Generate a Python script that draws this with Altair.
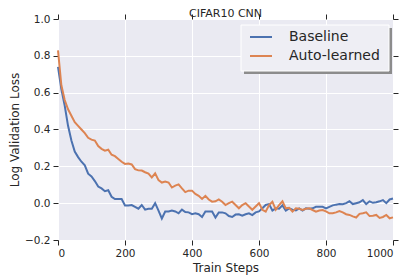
import altair as alt
import pandas as pd

steps = list(range(0, 1001, 10))

baseline = [
    0.74, 0.62, 0.53, 0.42, 0.34, 0.28, 0.25, 0.225, 0.205, 0.16,
    0.145, 0.12, 0.09, 0.08, 0.065, 0.07, 0.035, 0.022, 0.022, 0.022,
    -0.012, -0.012, -0.01, -0.02, -0.03, -0.01, -0.035, -0.03, -0.03, 0.0,
    -0.04, -0.083, -0.045, -0.045, -0.04, -0.045, -0.055, -0.035, -0.048, -0.05,
    -0.06, -0.055, -0.06, -0.075, -0.045, -0.045, -0.045, -0.078, -0.05, -0.05,
    -0.055, -0.07, -0.075, -0.062, -0.06, -0.068, -0.06, -0.055, -0.065, -0.05,
    -0.045, -0.028, -0.01, -0.005, -0.04, -0.028, -0.03, -0.012, -0.04, -0.028,
    -0.035, -0.04, -0.028, -0.04, -0.028, -0.03, -0.028, -0.02, -0.02, -0.02,
    -0.028, -0.02, -0.012, -0.008, -0.005, -0.006, 0.0, 0.01, -0.005, 0.0,
    0.005, 0.017, -0.005, 0.01, 0.002, 0.005, 0.01, 0.017, 0.0, 0.02,
    0.025,
]

auto_learned = [
    0.83, 0.64, 0.56, 0.51, 0.475, 0.44, 0.42, 0.40, 0.38, 0.355,
    0.345, 0.34, 0.31, 0.295, 0.285, 0.29, 0.263, 0.255, 0.24, 0.225,
    0.213, 0.215, 0.21, 0.185, 0.178, 0.177, 0.168, 0.16, 0.14, 0.162,
    0.125, 0.112, 0.118, 0.112, 0.085, 0.095, 0.102, 0.08, 0.06, 0.068,
    0.068, 0.05, 0.04, 0.023, 0.04, 0.02, 0.008, 0.01, 0.02, 0.008,
    -0.01, 0.0, 0.008, -0.01, -0.028, -0.01, 0.0, -0.018, -0.036, -0.018,
    0.0, -0.036, -0.046, -0.01, 0.008, -0.035, -0.01, 0.01, -0.028, -0.025,
    -0.046, -0.028, -0.03, -0.037, -0.03, -0.028, -0.037, -0.046, -0.04, -0.037,
    -0.045, -0.055, -0.055, -0.05, -0.043, -0.05, -0.06, -0.064, -0.072, -0.078,
    -0.058, -0.055, -0.05, -0.07, -0.068, -0.064, -0.08, -0.075, -0.064, -0.082,
    -0.077,
]

series_names = ["Baseline", "Auto-learned"]
series_colors = ["#4C72B0", "#DD8452"]
x_ticks = [0, 200, 400, 600, 800, 1000]
y_ticks = [-0.2, 0.0, 0.2, 0.4, 0.6, 0.8, 1.0]

df = pd.DataFrame({
    "step": steps + steps,
    "loss": baseline + auto_learned,
    "series": [series_names[0]] * len(steps) + [series_names[1]] * len(steps),
})

FONT = "DejaVu Sans"
TXT = "#262626"

xscale = alt.Scale(domain=[0, 1000], nice=False, zero=False)
yscale = alt.Scale(domain=[-0.2, 1.0], nice=False, zero=False)

lines = alt.Chart(df).mark_line(strokeWidth=2).encode(
    x=alt.X("step:Q", scale=xscale,
            axis=alt.Axis(title="Train Steps", values=x_ticks, format="d", orient="bottom",
                          grid=True, titlePadding=4)),
    y=alt.Y("loss:Q", scale=yscale,
            axis=alt.Axis(title="Log Validation Loss", values=y_ticks, format=".1f",
                          orient="left", grid=True, titlePadding=3)),
    color=alt.Color("series:N", sort=series_names,
                    scale=alt.Scale(domain=series_names, range=series_colors),
                    legend=alt.Legend(title=None, orient="none", legendX=191, legendY=6,
                                      symbolType="stroke", symbolSize=484,
                                      symbolStrokeWidth=2, labelFontSize=14,
                                      labelFont=FONT, labelColor=TXT,
                                      labelOffset=16, rowPadding=0, padding=0)),
)

frame_axes = alt.Chart(df).mark_line(opacity=0).encode(
    x=alt.X("step:Q", scale=xscale,
            axis=alt.Axis(title=None, values=x_ticks, orient="top", labels=False,
                          grid=False)),
    y=alt.Y("loss:Q", scale=yscale,
            axis=alt.Axis(title=None, values=y_ticks, orient="right", labels=False,
                          grid=False)),
)

box_df = pd.DataFrame({"k": [0]})
shadow = alt.Chart(box_df).mark_rect(color="#8c8c8c").encode(
    x=alt.value(186), x2=alt.value(334), y=alt.value(9), y2=alt.value(55)
)
box = alt.Chart(box_df).mark_rect(color="#EEEEF4", stroke="#FFFFFF", strokeWidth=1).encode(
    x=alt.value(183), x2=alt.value(331), y=alt.value(6), y2=alt.value(52)
)

chart = alt.layer(frame_axes, lines, shadow, box).resolve_axis(
    x="independent", y="independent"
).properties(
    width=335, height=221,
    autosize=alt.AutoSizeParams(type="none"),
    padding={"left": 50, "top": 11, "right": 10, "bottom": 40},
    title=alt.TitleParams("CIFAR10 CNN", font=FONT, fontSize=11, fontWeight="normal",
                          color=TXT, offset=0, anchor="middle", dy=5),
).configure_view(
    fill="#EAEAF2", stroke="transparent"
).configure_axis(
    domain=False, gridColor="#FFFFFF", gridWidth=1, gridOpacity=1,
    tickColor=TXT, tickSize=5, tickWidth=1,
    labelFont=FONT, labelFontSize=10.5, labelColor=TXT, labelPadding=3,
    titleFont=FONT, titleFontSize=12, titleColor=TXT, titleFontWeight="normal",
)

chart.save("out.html", embed_options={"renderer": "svg", "actions": False})
